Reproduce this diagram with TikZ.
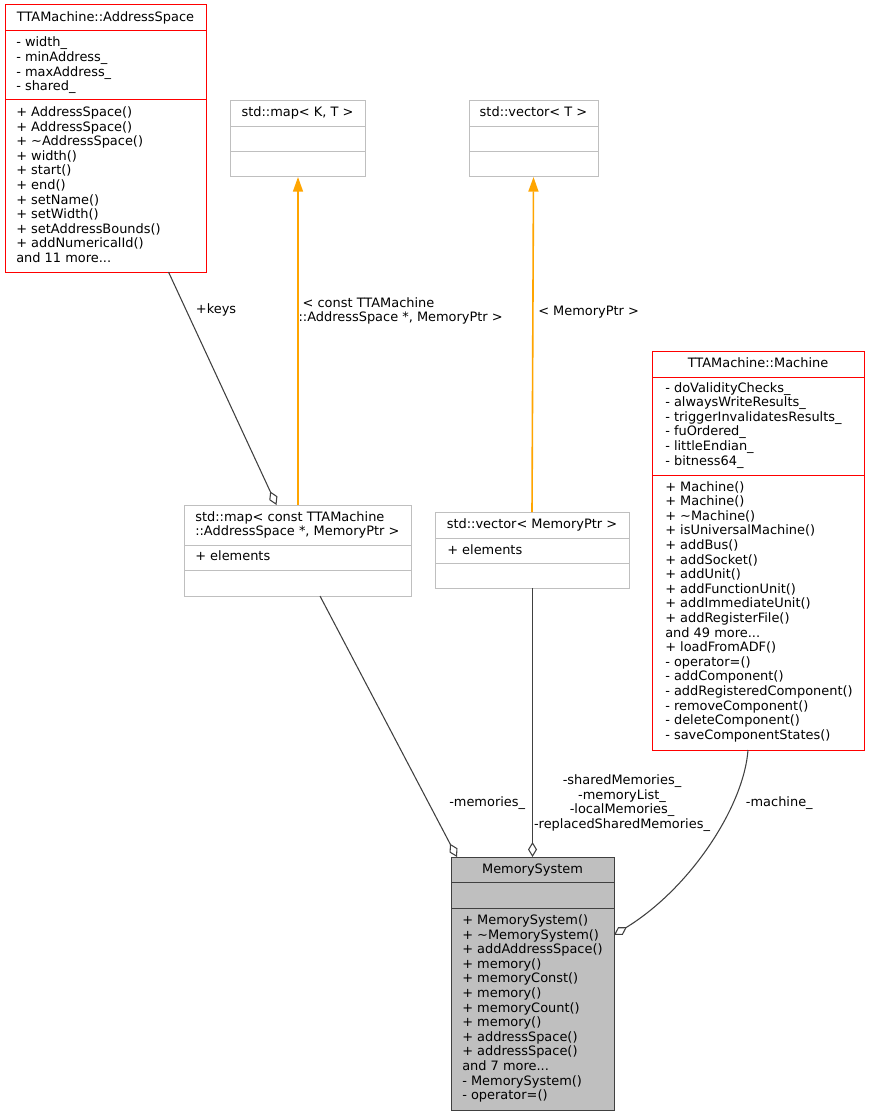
\documentclass[tikz,border=0pt]{standalone}
\usepackage{fontspec}
\setmainfont{DejaVu Sans}
\usetikzlibrary{arrows.meta,calc}

\definecolor{edgegray}{HTML}{404040}
\definecolor{boxgray}{HTML}{BFBFBF}
\definecolor{inhorange}{HTML}{FFA500}

\tikzset{
  member/.style={anchor=base west, inner sep=0pt, font=\fontsize{9.7}{11}\selectfont},
  classtitle/.style={member, anchor=base},
  lbl/.style={member},
  classbox/.style={line width=0.75pt, inner sep=0pt, outer sep=0pt},
  assoc/.style={draw=edgegray, line width=0.8pt, -{Diamond[open, length=11.25pt, width=6.75pt]}},
  inherit/.style={draw=inhorange, line width=1.2pt, -{Triangle[length=11pt, width=7.5pt]}},
}

\begin{document}
\begin{tikzpicture}[x=0.75pt,y=-0.75pt]
  \newcommand{\umlclass}[6]{%
    \node[classbox, #6, minimum width={(#4-#2)*0.75pt}, minimum height={(#5-#3)*0.75pt}]
      (#1) at ({(#2+#4)/2},{(#3+#5)/2}) {};}
  \useasboundingbox (0,0) rectangle (870,1116);

  % class boxes
  \umlclass{as}{5}{5}{206}{272}{draw=red}
  \umlclass{mk}{230}{101}{365}{177}{draw=boxgray}
  \umlclass{vt}{469}{101}{598}{177}{draw=boxgray}
  \umlclass{mp}{184}{505}{411}{596}{draw=boxgray}
  \umlclass{vp}{435}{512}{629}{588}{draw=boxgray}
  \umlclass{ma}{652}{351}{864}{750}{draw=red}
  \umlclass{ms}{451}{857}{614}{1110}{draw=edgegray, fill=boxgray}

  % compartment lines
  \foreach \xa/\xb/\y/\c in {5/206/31/red, 5/206/100/red,
      230/365/127/boxgray, 230/365/152/boxgray, 469/598/127/boxgray, 469/598/152/boxgray,
      184/411/545/boxgray, 184/411/570.5/boxgray, 435/629/538/boxgray, 435/629/563/boxgray,
      652/864/377/red, 652/864/475/red, 451/614/882.5/edgegray, 451/614/908/edgegray}
    \draw[draw=\c, line width=0.75pt] (\xa,\y) -- (\xb,\y);

  % titles
  \foreach \n/\x/\y/\t in {as/105.5/22/{TTAMachine::AddressSpace}, mk/297.5/117/{std::map< K, T >},
      vt/533.5/117/{std::vector< T >}, vp/532/528.3/{std::vector< MemoryPtr >},
      ma/758/367/{TTAMachine::Machine}, ms/532.5/873.5/{MemorySystem}}
    \node[classtitle] (\n-t) at (\x,\y) {\t};
  \foreach \t [count=\i from 0] in {{std::map< const TTAMachine}, {::AddressSpace *, MemoryPtr >}}
    \node[member] (mp-t\i) at (195,521+14.7*\i) {\t};

  % members
  \foreach \t [count=\i from 0] in {- width\_, - minAddress\_, - maxAddress\_, - shared\_}
    \node[member] (as-a\i) at (16,47+14.6*\i) {\t};
  \foreach \t [count=\i from 0] in {+ AddressSpace(), + AddressSpace(), + \textasciitilde AddressSpace(),
      + width(), + start(), + end(), + setName(), + setWidth(), + setAddressBounds(),
      + addNumericalId(), and 11 more.{}.{}.}
    \node[member] (as-m\i) at (16,116.5+14.6*\i) {\t};
  \node[member] (mp-a0) at (195,560.7) {+ elements};
  \node[member] (vp-a0) at (447,554) {+ elements};
  \foreach \t [count=\i from 0] in {- doValidityChecks\_, - alwaysWriteResults\_,
      - triggerInvalidatesResults\_, - fuOrdered\_, - littleEndian\_, - bitness64\_}
    \node[member] (ma-a\i) at (665,392+14.6*\i) {\t};
  \foreach \t [count=\i from 0] in {+ Machine(), + Machine(), + \textasciitilde Machine(),
      + isUniversalMachine(), + addBus(), + addSocket(), + addUnit(), + addFunctionUnit(),
      + addImmediateUnit(), + addRegisterFile(), and 49 more.{}.{}., + loadFromADF(),
      - operator=(), - addComponent(), - addRegisteredComponent(), - removeComponent(),
      - deleteComponent(), - saveComponentStates()}
    \node[member] (ma-m\i) at (665,491+14.6*\i) {\t};
  \foreach \t [count=\i from 0] in {+ MemorySystem(), + \textasciitilde MemorySystem(),
      + addAddressSpace(), + memory(), + memoryConst(), + memory(), + memoryCount(),
      + memory(), + addressSpace(), + addressSpace(), and 7 more.{}.{}., - MemorySystem(),
      - operator=()}
    \node[member] (ms-m\i) at (462,924.5+14.6*\i) {\t};

  % edges
  \draw[assoc] ($(as.south)+(63,0)$) -- ($(mp.north)+(-21,0)$);
  \draw[inherit] ($(mp.north)+(0.5,0)$) -- ($(mk.south)+(0.5,0)$);
  \draw[inherit] (vp.north) -- (vt.south);
  \draw[assoc] ($(mp.south)+(22.5,0)$) -- ($(ms.north west)+(6,0)$);
  \draw[assoc] ($(vp.south)+(0.5,0)$) -- ($(vp.south |- ms.north)+(0.5,0)$);
  \draw[assoc] ($(ma.south)+(-10,0)$) .. controls (744,805) and (692,887) .. ($(ms.east)+(0,-48.5)$);

  % edge labels
  \node[lbl] (l-keys) at (195.7,313.5) {+keys};
  \node[lbl, anchor=north west, align=left] (l-map) at (298.3,297.2)
    {\ < const TTAMachine\\::AddressSpace *, MemoryPtr >};
  \node[lbl] (l-vec) at (538,315) {< MemoryPtr >};
  \node[lbl] (l-mem) at (449,806.5) {-memories\_};
  \node[lbl, anchor=north, align=center] (l-list) at (622,774.5)
    {-sharedMemories\_\\-memoryList\_\\-localMemories\_\\-replacedSharedMemories\_};
  \node[lbl] (l-mach) at (745.7,806) {-machine\_};
\end{tikzpicture}
\end{document}
